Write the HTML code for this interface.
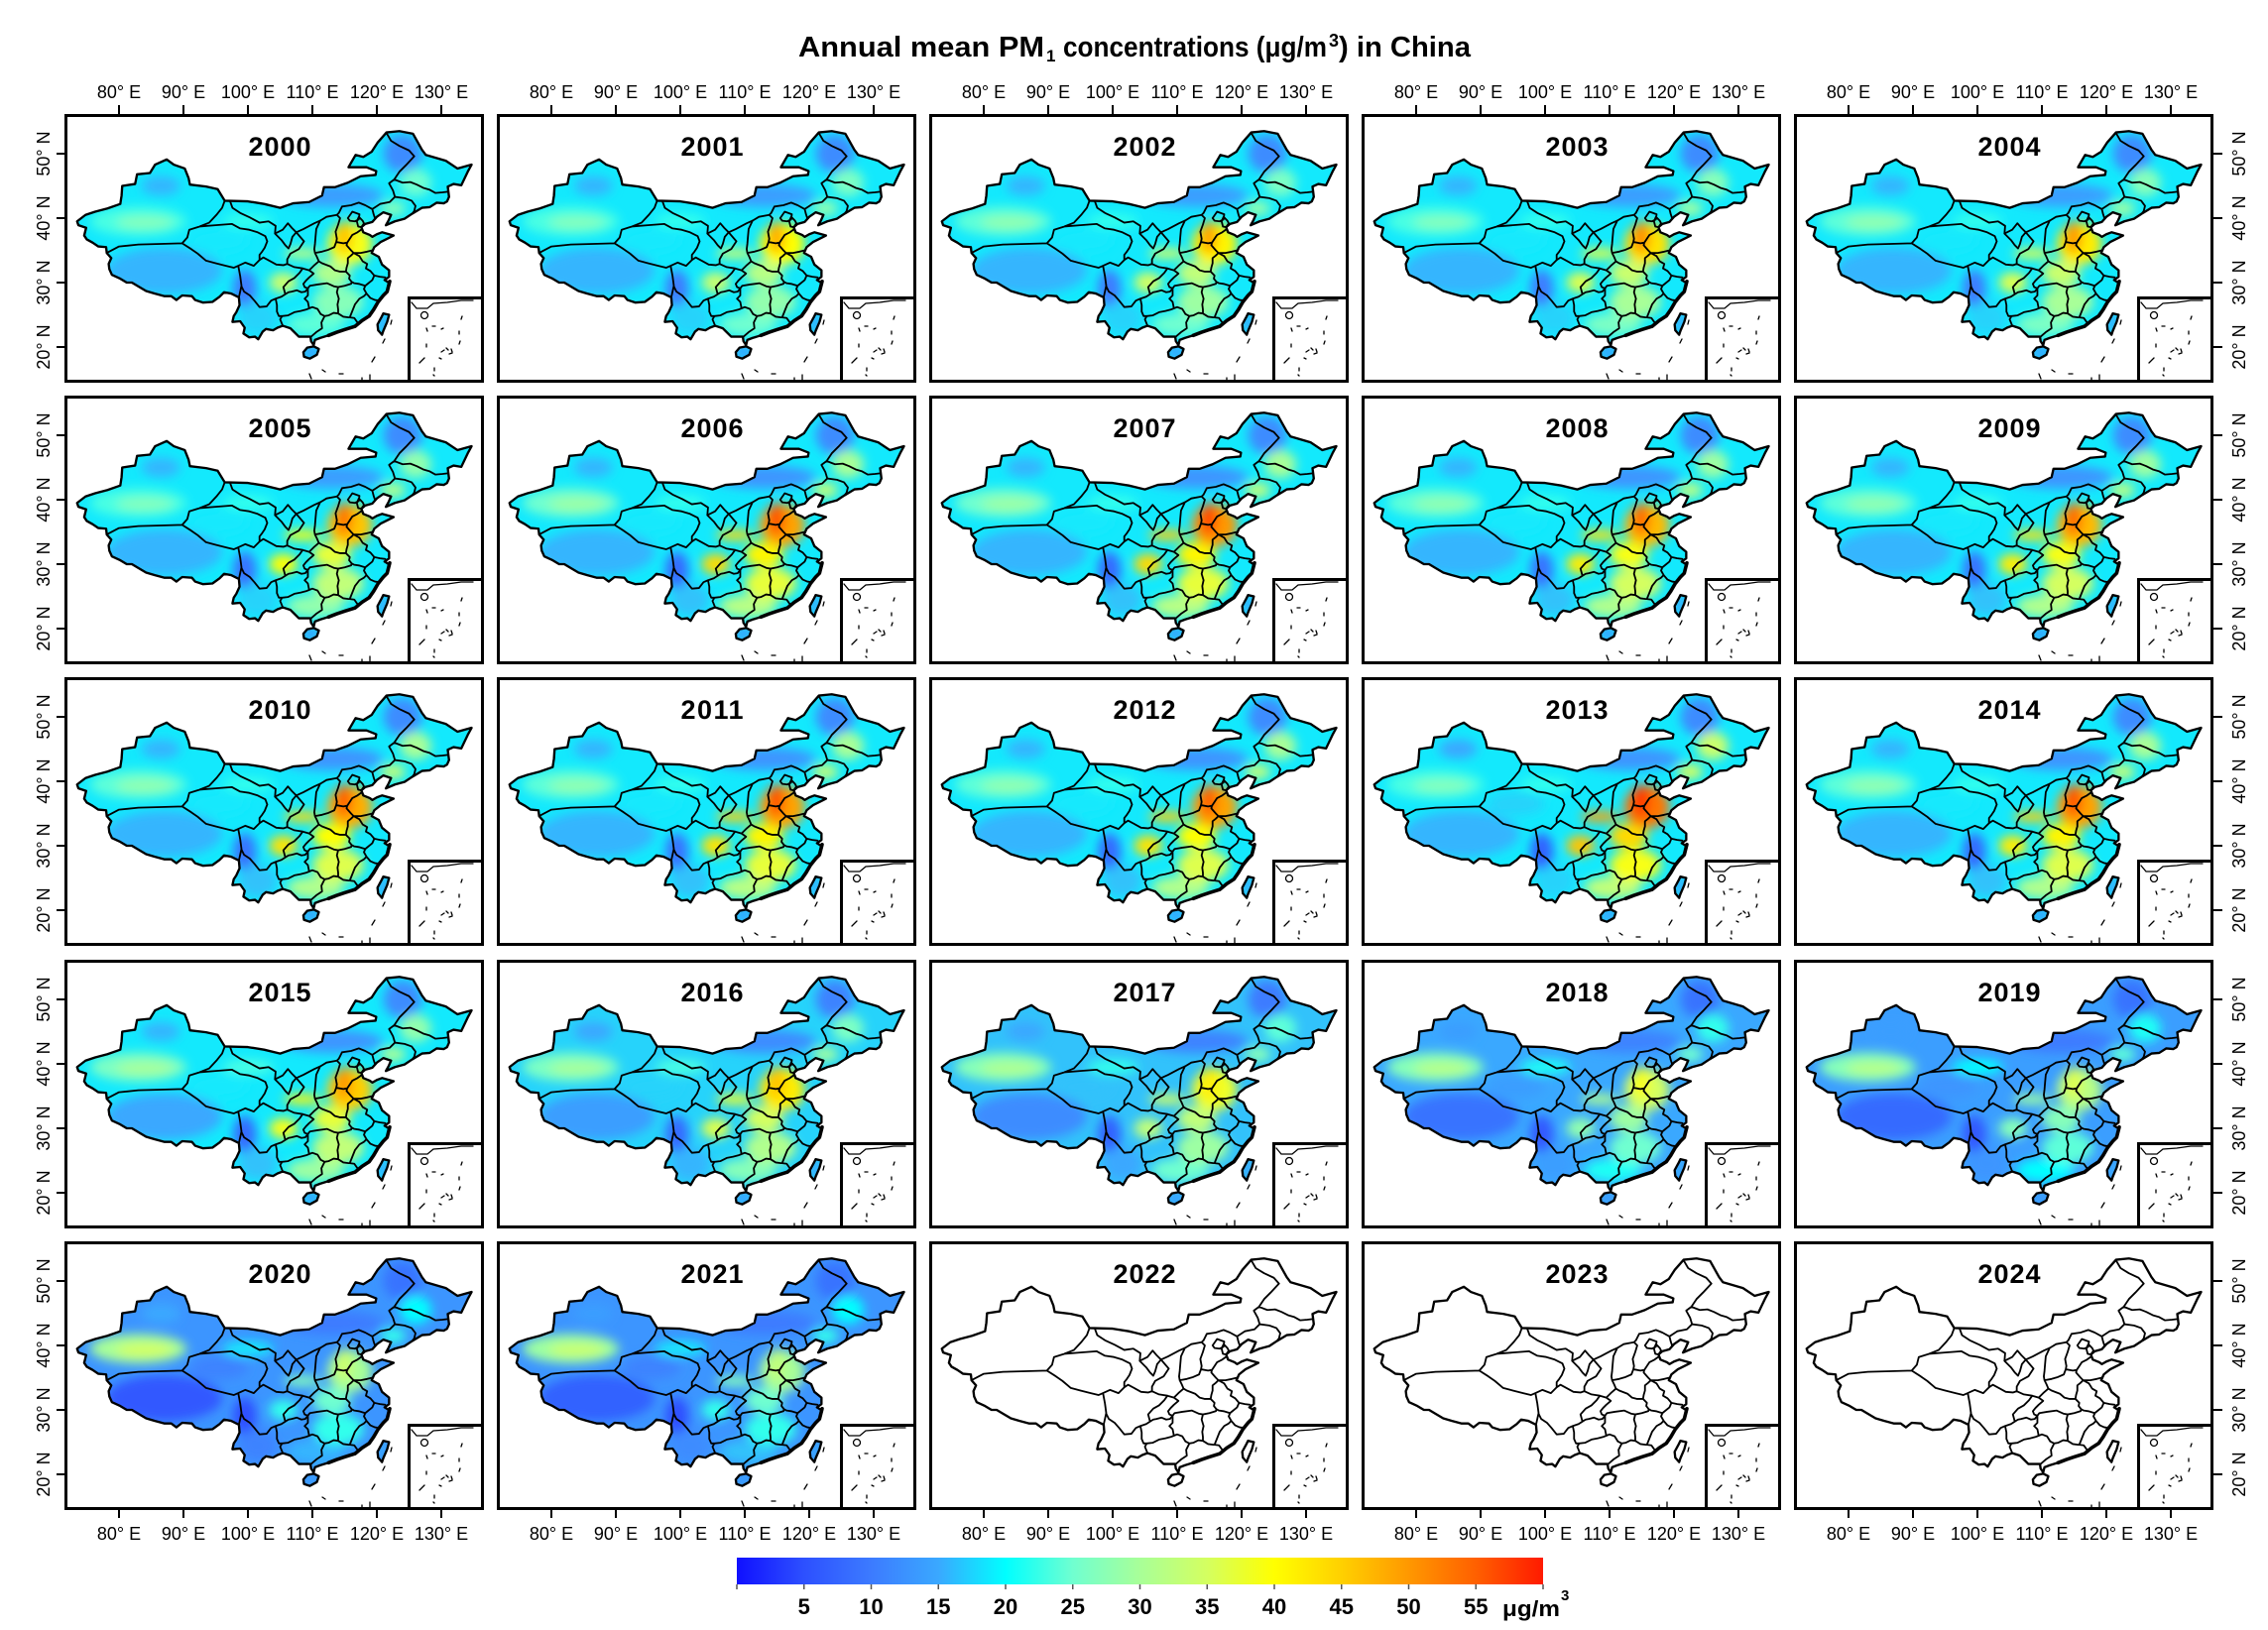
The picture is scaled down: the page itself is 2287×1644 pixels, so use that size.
<!DOCTYPE html>
<html><head><meta charset="utf-8">
<style>
html,body{margin:0;padding:0;background:#fff}
svg{display:block}
text{font-family:"Liberation Sans",Arial,sans-serif;fill:#000}
.yr{font-weight:bold;font-size:27px}
.tk{font-size:18px}
.cb{font-weight:bold;font-size:22px}
</style></head>
<body>
<svg xmlns="http://www.w3.org/2000/svg" width="2287" height="1644" viewBox="0 0 2287 1644">
<defs>
<path id="cnp" d="M73.5 39.5 L74.8 40.5 L76.3 41 L78.2 41.5 L80.2 42.2 L80.4 43.5 L80.5 45 L82.5 45.3 L82.8 46.8 L84.8 47 L85.6 48.3 L87.4 49.1 L88.5 48.3 L90.2 47.7 L90.8 46.2 L91 45.2 L93.5 44.9 L95.3 44.5 L96.4 42.7 L100 42.6 L102.5 42.2 L105 41.6 L107 42.3 L109.5 42.5 L111.5 43.5 L111.8 44.8 L113.5 44.8 L115.5 45.5 L117.5 46.5 L119.8 46.7 L119.9 47.3 L118.4 47.9 L115.6 47.9 L116.7 49.8 L117.9 49.5 L119.2 50.3 L120.1 51.7 L121.5 53.3 L123.5 53.5 L125.6 53.1 L127 50.6 L127.6 49.8 L130.7 48.9 L132.5 47.7 L134.7 48.3 L134.1 47.2 L133.1 45.1 L131.9 45.3 L131 44.9 L131.2 43.3 L130.9 42.6 L130.4 42.3 L129.3 42.4 L128.2 41.7 L127 41.6 L125.5 40.7 L124.3 39.9 L122.8 39.5 L121.4 38.9 L121.8 39.6 L122.2 40.5 L121 40.9 L120 40.2 L119.3 39.4 L118.2 39.1 L117.6 38.6 L117.9 37.8 L118.9 37.4 L119.3 37.1 L120 37.5 L120.8 37.8 L122.6 37.3 L121.8 36.9 L120.6 36.3 L119.6 35.5 L119.2 34.6 L120.3 34 L120.8 32.8 L121.9 31.9 L121.9 30.9 L121.2 30.4 L122 29.9 L121.6 28.6 L121 28 L120.2 27 L119.5 25.8 L118.8 24.8 L117.7 24.1 L116.6 23.2 L115 22.7 L113.8 22.3 L112.5 21.8 L111.2 21.4 L110.4 21.1 L110.2 20.3 L109.8 20.9 L109.7 21.6 L108.5 21.6 L107.9 21.6 L107 22.5 L106.6 22.9 L105.4 23.3 L104.6 23 L103.9 22.6 L102.8 22.8 L102.3 22.4 L101.6 21.2 L101.1 21.6 L100.2 21.5 L99.3 22.1 L99.5 23 L98.8 24 L97.6 23.9 L97.8 24.8 L98.2 25.4 L98.7 26.5 L98.6 27.7 L97.4 28.3 L96.3 28.5 L95.6 27.8 L94.5 27 L93 26.9 L91.8 27.3 L91.3 27.9 L89.8 28 L88.9 27.3 L88.1 27.9 L87 27.9 L85.5 28.3 L84.2 28.7 L83 29.4 L82 30 L81.2 30 L80.2 30.6 L78.9 31.2 L78.5 32.1 L78.4 32.9 L78.8 33.8 L78.1 34.6 L78 35.5 L76.8 35.6 L75.9 36.2 L75 36.7 L74.6 37.3 L74.9 38.5 L73.7 38.9 Z"/>
<path id="hnp" d="M108.6 19.2 L109.2 19.9 L110.2 20.1 L111 19.7 L110.7 18.8 L109.6 18.2 L108.7 18.5 Z"/>
<path id="twp" d="M121 25.2 L121.9 25 L121.6 23.9 L121 22.5 L120.8 21.9 L120.2 22.6 L120.1 23.5 L120.7 24.6 Z"/>
<clipPath id="cc"><use href="#cnp"/><use href="#hnp"/><use href="#twp"/></clipPath>
<filter id="bl" x="-20%" y="-20%" width="140%" height="140%"><feGaussianBlur stdDeviation="0.8"/></filter>
<ellipse id="a1" cx="83" cy="39.5" rx="7.5" ry="2.3"/>
<ellipse id="a18" cx="84" cy="39.3" rx="4.5" ry="1"/>
<ellipse id="a2" cx="86.5" cy="45" rx="3" ry="1.5"/>
<ellipse id="a3" cx="87" cy="31.8" rx="9" ry="3.6"/>
<ellipse id="a4" cx="95.5" cy="36.5" rx="4.5" ry="1.8"/>
<ellipse id="a5" cx="99.5" cy="29" rx="1.8" ry="3"/>
<ellipse id="a6" cx="113" cy="43.5" rx="8" ry="1.8"/>
<ellipse id="a7" cx="124" cy="50" rx="3" ry="3"/>
<ellipse id="a8" cx="126" cy="45.5" rx="2.5" ry="2.2"/>
<ellipse id="a9" cx="122.5" cy="41.5" rx="2" ry="1.2"/>
<ellipse id="a10" cx="114" cy="27" rx="4" ry="2.5"/>
<ellipse id="a19" cx="113" cy="31.5" rx="3" ry="2"/>
<ellipse id="a11" cx="110.5" cy="23.5" rx="4.5" ry="1.8"/>
<ellipse id="a12" cx="101.5" cy="24.5" rx="3" ry="2.5"/>
<ellipse id="a13" cx="105.5" cy="30" rx="2.2" ry="1.6"/>
<ellipse id="a14" cx="108.5" cy="34.5" rx="3" ry="0.8"/>
<ellipse id="a15" cx="115.8" cy="36" rx="3.5" ry="3.3"/>
<ellipse id="a16" cx="114.9" cy="37" rx="1.3" ry="2.5"/>
<ellipse id="a17" cx="100" cy="39.5" rx="4" ry="1.2"/>
<g id="isl"><ellipse cx="109.8" cy="19.2" rx="1.5" ry="1.2" fill="#3b9eff"/><ellipse cx="121" cy="23.7" rx="1" ry="1.8" fill="#3aa8ff"/></g>
<g id="ln" fill="none" stroke="#000" stroke-linejoin="round" stroke-linecap="round">
<path stroke-width="0.28" d="M78.1 34.6 L80 35.6 L83 35.9 L86.5 36 L89.8 36.1 L90.6 37 L90.9 38.2 L92.5 38.7 L94 39.3 L95.2 40.6 L96 41.6 L96.4 42.7 M89.8 36.1 L91.2 35.2 L92.2 34.5 L93.5 33.4 L95 33 L96.6 32.6 L97.8 32.3 L98.5 32.6 L98.8 31 L99 29.5 L98.8 28.6 L98.6 27.7 M98.5 32.6 L99.6 33.1 L100.9 32.6 L101.8 33.5 M92.5 38.7 L95 38.9 L97.5 39.1 L98.8 38.4 L100.2 38.2 L101.5 37.8 L102.7 37.2 L103 36.4 L102.6 35.4 L102.2 34.8 L101.8 34.3 L101.8 33.5 L102.4 33.9 L103.5 33.3 L104.4 32.8 L105.5 32.7 L106.1 32.9 L107.2 32.4 L108.5 32.2 M97.2 42.7 L97.6 41.6 L98.8 40.8 L100.3 40.1 L101.8 39.3 L103.2 39.5 L104.3 38.8 L104.2 37.6 M104.2 37.6 L105.4 38.2 L106.2 39.2 L106.8 38.5 L107.5 37.8 L106.9 37.1 L106.6 36 L106.3 35.3 L105.8 35.8 L105.2 36.6 Z M107.5 37.8 L108.7 36.4 L107.9 35.2 L106.6 34.5 L106.1 33.6 L106.1 32.9 M107.5 37.8 L108.6 38.3 L110.3 39.2 L111.2 39.6 L112.2 40.2 L113.8 40.5 L114.1 40.8 L114.6 41.8 L116 42 L117.2 42.4 L118.2 42 L119.3 41.4 L120.5 42.2 L122 42.5 L122.8 43.3 L122.5 44.3 L121.9 45.4 L122.7 46 L123.5 47.2 L124.5 48.2 L125.8 49.6 L125 50.5 L123.5 51.2 L122.2 52 L121.5 53.2 M122.7 46 L124 45.5 L125.2 45.6 L126.2 45.2 L127.2 44.7 L128.2 44.4 L129.1 43.9 L130.2 44 L131 44.1 M122.8 43.3 L124.3 43.1 L125.4 42.7 L126 41.9 L125.8 41.1 L125.5 40.7 M119.3 41.4 L119.5 40.6 L119.7 40 M113.8 40.5 L114.3 40 L114 39 L113.6 37.9 L113.8 36.8 L113.7 36.3 M111.2 39.6 L110.6 38.3 L110.5 37.2 L110.4 36 L110.3 35.2 L110.4 34.6 L111.5 34.8 L112.5 35.1 L113.4 35.5 L113.7 36.3 L114.8 36.1 L115.4 36.2 L116.2 37.4 L117 37.8 L117.7 38.3 M115.4 36.2 L115.3 35.8 L116 35 L116.4 34.6 L117.5 34.6 L118.5 34.8 L119.3 35 M116.4 34.6 L116 34.2 L115.5 33.8 L115.5 33 L115.3 32.3 L115.2 31.7 M116.4 34.6 L117.3 34.1 L117.8 33.3 L118.5 32.9 L118.3 32.2 L119 31.8 L119.6 31.1 L120.5 30.9 L121.3 30.8 M119.6 31.1 L119.3 30.4 L118.2 29.5 L117.2 29.8 L116.5 29.9 L116.1 30.1 L115.7 30.6 L115.8 31.1 L115.2 31.7 L114.3 31.7 L113.5 31.9 L112.8 32.5 L111.5 33 L111 33.3 M110.4 34.6 L110.7 34 L111 33.3 L110.2 32.6 L109.5 31.9 M108.5 32.2 L109.5 31.9 L110.2 31.4 L109.5 30.8 L109 30.3 L108.6 29.8 L108.8 29.3 L109.3 29.1 L108.9 28.6 L108.3 28.5 L107.6 28.8 L106.8 28.6 L106.3 28.5 L105.8 28.2 L105.5 29.3 L106.3 30.2 L107.2 30.7 L108 31.5 L108.5 32.2 M105.8 28.2 L105.2 27.8 L104.3 27.5 L103.6 27.2 L102.9 26.3 L101.8 26.2 L101 27.2 L100.3 28 L99.4 28.6 L99 29.4 M104.3 27.5 L104.5 26.5 L104.5 25.5 L104.8 24.8 L105.3 24.8 L105 24.3 L105.4 23.3 M105.3 24.8 L106.2 24.9 L107.2 25.4 L108.2 25.6 L109 25.8 L109.5 26 L109.3 27 L108.8 27.5 L109.3 28 L109.3 29.1 L109.6 29.5 L110.8 29.7 L112.3 29.9 L113.4 29.4 L114 29.3 L115 29.5 L116 29.8 L116.1 30.1 M114 29.3 L113.8 28.5 L114.1 27.5 L113.9 26.6 L114 25.8 L114 25.2 L113.3 25.3 L112.5 24.9 L111.9 24.8 L111.3 25.1 L110.8 25.9 L110 26.2 L109.5 26 M111.9 24.8 L111.4 23.8 L111.5 22.9 L110.6 22.3 L109.8 21.6 M114 25.2 L114.8 24.7 L115.6 24.6 L115.8 24.6 L116.5 24.5 L117 23.8 L117.2 23.6 M115.8 24.6 L116.2 25.6 L116.6 26.6 L117.3 27.5 L118 27.9 L118.4 28.3 L118 29 L118.2 29.5 M118.4 28.3 L119 27.6 L119.7 27.3 L120.4 27.2 M115.5 40 L116.2 41 L117.3 40.6 L117.2 39.8 L116.6 39.5 L115.8 39.6 Z M117.2 40.2 L117.8 39.6 L118 39.2 L117.6 38.6 L117.1 38.7 L116.9 39.5 Z"/>
<use href="#cnp" stroke-width="0.36"/><use href="#hnp" stroke-width="0.36"/><use href="#twp" stroke-width="0.36"/>
<path stroke-width="0.55" d="M122 30.2 L121.6 28.6 L121 28 L120.2 27 L119.5 25.8 L118.8 24.8 L117.7 24.1 L116.6 23.2 L115 22.7 L113.8 22.3 L112.5 21.8"/>
</g>
<g id="fr">
<rect x="1.5" y="1.5" width="420" height="268" fill="none" stroke="#000" stroke-width="3"/>
<rect x="347.5" y="185.5" width="74" height="84" fill="#fff" stroke="#000" stroke-width="3"/>
<g fill="none" stroke="#000" stroke-width="1.3" stroke-linecap="round">
<path d="M350 190 L355 196 L366 196 L372 191 L386 190 L400 188 L412 188 M365 216 l1 3 M371 214 l3 0 M380 217 l2 -1 M400 207 l1 -3 M398 219 l0 3 M365 232 l0 3 M363 246 l-5 5 M373 256 l0 3 M372 263 l1 1 M398 232 l1 -3 M380 240 l3 -2 M385 236 l2 2 M388 242 l3 -1 M378 246 l2 1 M390 237 l1 3 M330 208 l-1 4 M323 227 l-2 4 M313 245 l-3 5 M308 263 l0 5 M277 262 l4 0 M260 258 l3 2 M247 262 l2 5 M300 266 l0 2"/>
<circle cx="363" cy="203" r="3.5"/>
</g>
</g>
<linearGradient id="cbg" x1="0" y1="0" x2="1" y2="0">
<stop offset="0" stop-color="#1010ff"/><stop offset="0.0833" stop-color="#2d50ff"/><stop offset="0.1667" stop-color="#3c7bff"/><stop offset="0.25" stop-color="#3aa8ff"/><stop offset="0.3333" stop-color="#00ffff"/><stop offset="0.4167" stop-color="#70ffd0"/><stop offset="0.5" stop-color="#a8ff98"/><stop offset="0.5833" stop-color="#d4ff60"/><stop offset="0.6667" stop-color="#ffff00"/><stop offset="0.75" stop-color="#ffd000"/><stop offset="0.8333" stop-color="#ff9800"/><stop offset="0.9167" stop-color="#ff6000"/><stop offset="1" stop-color="#ff1a00"/>
</linearGradient>
</defs>
<rect width="2287" height="1644" fill="#fff"/>

<!-- Title -->
<text x="805" y="57" font-weight="bold" font-size="29" textLength="248" lengthAdjust="spacingAndGlyphs">Annual mean PM</text>
<text x="1055" y="62" font-weight="bold" font-size="17">1</text>
<text x="1072" y="57" font-weight="bold" font-size="29" textLength="266" lengthAdjust="spacingAndGlyphs">concentrations (μg/m</text>
<text x="1340" y="47" font-weight="bold" font-size="18">3</text>
<text x="1350" y="57" font-weight="bold" font-size="29" textLength="133" lengthAdjust="spacingAndGlyphs">) in China</text>

<!-- Row 1 -->
<g transform="translate(65 115)"><g transform="translate(55 40) scale(6.5 -6.5) translate(-80 -50)"><g clip-path="url(#cc)"><rect x="70" y="15" width="70" height="42" fill="#13e9fd"/><g filter="url(#bl)"><use href="#a3" fill="#36b5fe"/><use href="#a4" fill="#13e9fd"/><use href="#a1" fill="#4affe3"/><use href="#a18" fill="#86ffba"/><use href="#a2" fill="#36b5fe"/><use href="#a17" fill="#33ffec"/><use href="#a5" fill="#3c7bff"/><use href="#a12" fill="#26d3fb"/><use href="#a6" fill="#3b9eff"/><use href="#a7" fill="#3d8cff"/><use href="#a8" fill="#70ffd0"/><use href="#a9" fill="#86ffba"/><use href="#a11" fill="#5dffd9"/><use href="#a10" fill="#86ffba"/><use href="#a19" fill="#b0ff8e"/><use href="#a13" fill="#caff6d"/><use href="#a14" fill="#c1ff7a"/><use href="#a15" fill="#f8ff13"/><use href="#a16" fill="#ffc500"/><use href="#isl"/></g></g><use href="#ln"/></g><use href="#fr"/><text class="yr" x="185.5" y="42" textLength="63">2000</text></g>

<g transform="translate(501 115)"><g transform="translate(55 40) scale(6.5 -6.5) translate(-80 -50)"><g clip-path="url(#cc)"><rect x="70" y="15" width="70" height="42" fill="#13e9fd"/><g filter="url(#bl)"><use href="#a3" fill="#36b5fe"/><use href="#a4" fill="#13e9fd"/><use href="#a1" fill="#4affe3"/><use href="#a18" fill="#86ffba"/><use href="#a2" fill="#36b5fe"/><use href="#a17" fill="#33ffec"/><use href="#a5" fill="#3c7bff"/><use href="#a12" fill="#26d3fb"/><use href="#a6" fill="#3b9eff"/><use href="#a7" fill="#3d8cff"/><use href="#a8" fill="#7bffc5"/><use href="#a9" fill="#92ffae"/><use href="#a11" fill="#70ffd0"/><use href="#a10" fill="#92ffae"/><use href="#a19" fill="#b8ff85"/><use href="#a13" fill="#caff6d"/><use href="#a14" fill="#caff6d"/><use href="#a15" fill="#ffff00"/><use href="#a16" fill="#ffae00"/><use href="#isl"/></g></g><use href="#ln"/></g><use href="#fr"/><text class="yr" x="185.5" y="42" textLength="63">2001</text></g>

<g transform="translate(937 115)"><g transform="translate(55 40) scale(6.5 -6.5) translate(-80 -50)"><g clip-path="url(#cc)"><rect x="70" y="15" width="70" height="42" fill="#13e9fd"/><g filter="url(#bl)"><use href="#a3" fill="#36b5fe"/><use href="#a4" fill="#13e9fd"/><use href="#a1" fill="#5dffd9"/><use href="#a18" fill="#92ffae"/><use href="#a2" fill="#36b5fe"/><use href="#a17" fill="#33ffec"/><use href="#a5" fill="#3c7bff"/><use href="#a12" fill="#26d3fb"/><use href="#a6" fill="#3b9eff"/><use href="#a7" fill="#3d8cff"/><use href="#a8" fill="#7bffc5"/><use href="#a9" fill="#92ffae"/><use href="#a11" fill="#70ffd0"/><use href="#a10" fill="#9dffa3"/><use href="#a19" fill="#c1ff7a"/><use href="#a13" fill="#d4ff60"/><use href="#a14" fill="#d4ff60"/><use href="#a15" fill="#fff600"/><use href="#a16" fill="#ffa300"/><use href="#isl"/></g></g><use href="#ln"/></g><use href="#fr"/><text class="yr" x="185.5" y="42" textLength="63">2002</text></g>

<g transform="translate(1373 115)"><g transform="translate(55 40) scale(6.5 -6.5) translate(-80 -50)"><g clip-path="url(#cc)"><rect x="70" y="15" width="70" height="42" fill="#13e9fd"/><g filter="url(#bl)"><use href="#a3" fill="#36b5fe"/><use href="#a4" fill="#13e9fd"/><use href="#a1" fill="#4affe3"/><use href="#a18" fill="#86ffba"/><use href="#a2" fill="#36b5fe"/><use href="#a17" fill="#33ffec"/><use href="#a5" fill="#3c7bff"/><use href="#a12" fill="#26d3fb"/><use href="#a6" fill="#3b9eff"/><use href="#a7" fill="#3d8cff"/><use href="#a8" fill="#86ffba"/><use href="#a9" fill="#9dffa3"/><use href="#a11" fill="#7bffc5"/><use href="#a10" fill="#a8ff98"/><use href="#a19" fill="#caff6d"/><use href="#a13" fill="#deff4d"/><use href="#a14" fill="#e7ff3a"/><use href="#a15" fill="#ffe300"/><use href="#a16" fill="#ff8d00"/><use href="#isl"/></g></g><use href="#ln"/></g><use href="#fr"/><text class="yr" x="185.5" y="42" textLength="63">2003</text></g>

<g transform="translate(1809 115)"><g transform="translate(55 40) scale(6.5 -6.5) translate(-80 -50)"><g clip-path="url(#cc)"><rect x="70" y="15" width="70" height="42" fill="#13e9fd"/><g filter="url(#bl)"><use href="#a3" fill="#36b5fe"/><use href="#a4" fill="#13e9fd"/><use href="#a1" fill="#5dffd9"/><use href="#a18" fill="#92ffae"/><use href="#a2" fill="#36b5fe"/><use href="#a17" fill="#33ffec"/><use href="#a5" fill="#3c7bff"/><use href="#a12" fill="#26d3fb"/><use href="#a6" fill="#3b9eff"/><use href="#a7" fill="#3d8cff"/><use href="#a8" fill="#86ffba"/><use href="#a9" fill="#9dffa3"/><use href="#a11" fill="#7bffc5"/><use href="#a10" fill="#a8ff98"/><use href="#a19" fill="#caff6d"/><use href="#a13" fill="#deff4d"/><use href="#a14" fill="#deff4d"/><use href="#a15" fill="#ffed00"/><use href="#a16" fill="#ff9800"/><use href="#isl"/></g></g><use href="#ln"/></g><use href="#fr"/><text class="yr" x="185.5" y="42" textLength="63">2004</text></g>

<!-- Row 2 -->
<g transform="translate(65 399)"><g transform="translate(55 40) scale(6.5 -6.5) translate(-80 -50)"><g clip-path="url(#cc)"><rect x="70" y="15" width="70" height="42" fill="#13e9fd"/><g filter="url(#bl)"><use href="#a3" fill="#36b5fe"/><use href="#a4" fill="#13e9fd"/><use href="#a1" fill="#4affe3"/><use href="#a18" fill="#86ffba"/><use href="#a2" fill="#36b5fe"/><use href="#a17" fill="#33ffec"/><use href="#a5" fill="#3973ff"/><use href="#a12" fill="#26d3fb"/><use href="#a6" fill="#3b9eff"/><use href="#a7" fill="#3d8cff"/><use href="#a8" fill="#92ffae"/><use href="#a9" fill="#b0ff8e"/><use href="#a11" fill="#92ffae"/><use href="#a10" fill="#c1ff7a"/><use href="#a19" fill="#e7ff3a"/><use href="#a13" fill="#ffff00"/><use href="#a14" fill="#ffff00"/><use href="#a15" fill="#ffc500"/><use href="#a16" fill="#ff7600"/><use href="#isl"/></g></g><use href="#ln"/></g><use href="#fr"/><text class="yr" x="185.5" y="42" textLength="63">2005</text></g>

<g transform="translate(501 399)"><g transform="translate(55 40) scale(6.5 -6.5) translate(-80 -50)"><g clip-path="url(#cc)"><rect x="70" y="15" width="70" height="42" fill="#13e9fd"/><g filter="url(#bl)"><use href="#a3" fill="#36b5fe"/><use href="#a4" fill="#13e9fd"/><use href="#a1" fill="#70ffd0"/><use href="#a18" fill="#9dffa3"/><use href="#a2" fill="#36b5fe"/><use href="#a17" fill="#33ffec"/><use href="#a5" fill="#366aff"/><use href="#a12" fill="#32c2fb"/><use href="#a6" fill="#3c95ff"/><use href="#a7" fill="#3d8cff"/><use href="#a8" fill="#a8ff98"/><use href="#a9" fill="#c1ff7a"/><use href="#a11" fill="#b8ff85"/><use href="#a10" fill="#e7ff3a"/><use href="#a19" fill="#fff600"/><use href="#a13" fill="#ffda00"/><use href="#a14" fill="#ffda00"/><use href="#a15" fill="#ffa300"/><use href="#a16" fill="#ff5300"/><use href="#isl"/></g></g><use href="#ln"/></g><use href="#fr"/><text class="yr" x="185.5" y="42" textLength="63">2006</text></g>

<g transform="translate(937 399)"><g transform="translate(55 40) scale(6.5 -6.5) translate(-80 -50)"><g clip-path="url(#cc)"><rect x="70" y="15" width="70" height="42" fill="#13e9fd"/><g filter="url(#bl)"><use href="#a3" fill="#36b5fe"/><use href="#a4" fill="#13e9fd"/><use href="#a1" fill="#70ffd0"/><use href="#a18" fill="#9dffa3"/><use href="#a2" fill="#36b5fe"/><use href="#a17" fill="#33ffec"/><use href="#a5" fill="#366aff"/><use href="#a12" fill="#32c2fb"/><use href="#a6" fill="#3c95ff"/><use href="#a7" fill="#3d8cff"/><use href="#a8" fill="#a8ff98"/><use href="#a9" fill="#c1ff7a"/><use href="#a11" fill="#b8ff85"/><use href="#a10" fill="#e7ff3a"/><use href="#a19" fill="#fff600"/><use href="#a13" fill="#ffda00"/><use href="#a14" fill="#ffd000"/><use href="#a15" fill="#ff9800"/><use href="#a16" fill="#ff4600"/><use href="#isl"/></g></g><use href="#ln"/></g><use href="#fr"/><text class="yr" x="185.5" y="42" textLength="63">2007</text></g>

<g transform="translate(1373 399)"><g transform="translate(55 40) scale(6.5 -6.5) translate(-80 -50)"><g clip-path="url(#cc)"><rect x="70" y="15" width="70" height="42" fill="#13e9fd"/><g filter="url(#bl)"><use href="#a3" fill="#36b5fe"/><use href="#a4" fill="#13e9fd"/><use href="#a1" fill="#5dffd9"/><use href="#a18" fill="#92ffae"/><use href="#a2" fill="#36b5fe"/><use href="#a17" fill="#33ffec"/><use href="#a5" fill="#3973ff"/><use href="#a12" fill="#32c2fb"/><use href="#a6" fill="#3c95ff"/><use href="#a7" fill="#3d8cff"/><use href="#a8" fill="#9dffa3"/><use href="#a9" fill="#b8ff85"/><use href="#a11" fill="#b0ff8e"/><use href="#a10" fill="#d4ff60"/><use href="#a19" fill="#f8ff13"/><use href="#a13" fill="#ffed00"/><use href="#a14" fill="#ffe300"/><use href="#a15" fill="#ffba00"/><use href="#a16" fill="#ff6b00"/><use href="#isl"/></g></g><use href="#ln"/></g><use href="#fr"/><text class="yr" x="185.5" y="42" textLength="63">2008</text></g>

<g transform="translate(1809 399)"><g transform="translate(55 40) scale(6.5 -6.5) translate(-80 -50)"><g clip-path="url(#cc)"><rect x="70" y="15" width="70" height="42" fill="#13e9fd"/><g filter="url(#bl)"><use href="#a3" fill="#36b5fe"/><use href="#a4" fill="#13e9fd"/><use href="#a1" fill="#5dffd9"/><use href="#a18" fill="#92ffae"/><use href="#a2" fill="#36b5fe"/><use href="#a17" fill="#33ffec"/><use href="#a5" fill="#3973ff"/><use href="#a12" fill="#32c2fb"/><use href="#a6" fill="#3c95ff"/><use href="#a7" fill="#3d8cff"/><use href="#a8" fill="#9dffa3"/><use href="#a9" fill="#b8ff85"/><use href="#a11" fill="#b0ff8e"/><use href="#a10" fill="#d4ff60"/><use href="#a19" fill="#f8ff13"/><use href="#a13" fill="#ffed00"/><use href="#a14" fill="#ffe300"/><use href="#a15" fill="#ffba00"/><use href="#a16" fill="#ff6b00"/><use href="#isl"/></g></g><use href="#ln"/></g><use href="#fr"/><text class="yr" x="185.5" y="42" textLength="63">2009</text></g>

<!-- Row 3 -->
<g transform="translate(65 683)"><g transform="translate(55 40) scale(6.5 -6.5) translate(-80 -50)"><g clip-path="url(#cc)"><rect x="70" y="15" width="70" height="42" fill="#13e9fd"/><g filter="url(#bl)"><use href="#a3" fill="#36b5fe"/><use href="#a4" fill="#13e9fd"/><use href="#a1" fill="#5dffd9"/><use href="#a18" fill="#92ffae"/><use href="#a2" fill="#36b5fe"/><use href="#a17" fill="#33ffec"/><use href="#a5" fill="#3973ff"/><use href="#a12" fill="#32c2fb"/><use href="#a6" fill="#3c95ff"/><use href="#a7" fill="#3d8cff"/><use href="#a8" fill="#a8ff98"/><use href="#a9" fill="#c1ff7a"/><use href="#a11" fill="#b0ff8e"/><use href="#a10" fill="#deff4d"/><use href="#a19" fill="#ffff00"/><use href="#a13" fill="#ffe300"/><use href="#a14" fill="#ffda00"/><use href="#a15" fill="#ffae00"/><use href="#a16" fill="#ff6000"/><use href="#isl"/></g></g><use href="#ln"/></g><use href="#fr"/><text class="yr" x="185.5" y="42" textLength="63">2010</text></g>

<g transform="translate(501 683)"><g transform="translate(55 40) scale(6.5 -6.5) translate(-80 -50)"><g clip-path="url(#cc)"><rect x="70" y="15" width="70" height="42" fill="#13e9fd"/><g filter="url(#bl)"><use href="#a3" fill="#36b5fe"/><use href="#a4" fill="#13e9fd"/><use href="#a1" fill="#5dffd9"/><use href="#a18" fill="#92ffae"/><use href="#a2" fill="#36b5fe"/><use href="#a17" fill="#33ffec"/><use href="#a5" fill="#3973ff"/><use href="#a12" fill="#32c2fb"/><use href="#a6" fill="#3c95ff"/><use href="#a7" fill="#3d8cff"/><use href="#a8" fill="#a8ff98"/><use href="#a9" fill="#c1ff7a"/><use href="#a11" fill="#b8ff85"/><use href="#a10" fill="#e7ff3a"/><use href="#a19" fill="#fff600"/><use href="#a13" fill="#ffe300"/><use href="#a14" fill="#ffd000"/><use href="#a15" fill="#ffa300"/><use href="#a16" fill="#ff5300"/><use href="#isl"/></g></g><use href="#ln"/></g><use href="#fr"/><text class="yr" x="185.5" y="42" textLength="63">2011</text></g>

<g transform="translate(937 683)"><g transform="translate(55 40) scale(6.5 -6.5) translate(-80 -50)"><g clip-path="url(#cc)"><rect x="70" y="15" width="70" height="42" fill="#13e9fd"/><g filter="url(#bl)"><use href="#a3" fill="#36b5fe"/><use href="#a4" fill="#13e9fd"/><use href="#a1" fill="#5dffd9"/><use href="#a18" fill="#92ffae"/><use href="#a2" fill="#36b5fe"/><use href="#a17" fill="#33ffec"/><use href="#a5" fill="#366aff"/><use href="#a12" fill="#32c2fb"/><use href="#a6" fill="#3c95ff"/><use href="#a7" fill="#3d8cff"/><use href="#a8" fill="#a8ff98"/><use href="#a9" fill="#c1ff7a"/><use href="#a11" fill="#b0ff8e"/><use href="#a10" fill="#deff4d"/><use href="#a19" fill="#ffff00"/><use href="#a13" fill="#ffe300"/><use href="#a14" fill="#ffd000"/><use href="#a15" fill="#ffa300"/><use href="#a16" fill="#ff6000"/><use href="#isl"/></g></g><use href="#ln"/></g><use href="#fr"/><text class="yr" x="185.5" y="42" textLength="63">2012</text></g>

<g transform="translate(1373 683)"><g transform="translate(55 40) scale(6.5 -6.5) translate(-80 -50)"><g clip-path="url(#cc)"><rect x="70" y="15" width="70" height="42" fill="#13e9fd"/><g filter="url(#bl)"><use href="#a3" fill="#36b5fe"/><use href="#a4" fill="#26d3fb"/><use href="#a1" fill="#4affe3"/><use href="#a18" fill="#86ffba"/><use href="#a2" fill="#3aa8ff"/><use href="#a17" fill="#33ffec"/><use href="#a5" fill="#3362ff"/><use href="#a12" fill="#26d3fb"/><use href="#a6" fill="#3c95ff"/><use href="#a7" fill="#3d8cff"/><use href="#a8" fill="#caff6d"/><use href="#a9" fill="#d4ff60"/><use href="#a11" fill="#c1ff7a"/><use href="#a10" fill="#f8ff13"/><use href="#a19" fill="#ffda00"/><use href="#a13" fill="#ffc500"/><use href="#a14" fill="#ffa300"/><use href="#a15" fill="#ff7600"/><use href="#a16" fill="#ff3800"/><use href="#isl"/></g></g><use href="#ln"/></g><use href="#fr"/><text class="yr" x="185.5" y="42" textLength="63">2013</text></g>

<g transform="translate(1809 683)"><g transform="translate(55 40) scale(6.5 -6.5) translate(-80 -50)"><g clip-path="url(#cc)"><rect x="70" y="15" width="70" height="42" fill="#13e9fd"/><g filter="url(#bl)"><use href="#a3" fill="#36b5fe"/><use href="#a4" fill="#13e9fd"/><use href="#a1" fill="#5dffd9"/><use href="#a18" fill="#92ffae"/><use href="#a2" fill="#36b5fe"/><use href="#a17" fill="#33ffec"/><use href="#a5" fill="#366aff"/><use href="#a12" fill="#32c2fb"/><use href="#a6" fill="#3c95ff"/><use href="#a7" fill="#3d8cff"/><use href="#a8" fill="#a8ff98"/><use href="#a9" fill="#c1ff7a"/><use href="#a11" fill="#b0ff8e"/><use href="#a10" fill="#deff4d"/><use href="#a19" fill="#fff600"/><use href="#a13" fill="#ffed00"/><use href="#a14" fill="#ffd000"/><use href="#a15" fill="#ffa300"/><use href="#a16" fill="#ff5300"/><use href="#isl"/></g></g><use href="#ln"/></g><use href="#fr"/><text class="yr" x="185.5" y="42" textLength="63">2014</text></g>

<!-- Row 4 -->
<g transform="translate(65 968)"><g transform="translate(55 40) scale(6.5 -6.5) translate(-80 -50)"><g clip-path="url(#cc)"><rect x="70" y="15" width="70" height="42" fill="#13e9fd"/><g filter="url(#bl)"><use href="#a3" fill="#3aa8ff"/><use href="#a4" fill="#13e9fd"/><use href="#a1" fill="#7bffc5"/><use href="#a18" fill="#a8ff98"/><use href="#a2" fill="#36b5fe"/><use href="#a17" fill="#4affe3"/><use href="#a5" fill="#366aff"/><use href="#a12" fill="#32c2fb"/><use href="#a6" fill="#3c95ff"/><use href="#a7" fill="#3d8cff"/><use href="#a8" fill="#92ffae"/><use href="#a9" fill="#a8ff98"/><use href="#a11" fill="#9dffa3"/><use href="#a10" fill="#c1ff7a"/><use href="#a19" fill="#e7ff3a"/><use href="#a13" fill="#f8ff13"/><use href="#a14" fill="#fff600"/><use href="#a15" fill="#ffd000"/><use href="#a16" fill="#ff9800"/><use href="#isl"/></g></g><use href="#ln"/></g><use href="#fr"/><text class="yr" x="185.5" y="42" textLength="63">2015</text></g>

<g transform="translate(501 968)"><g transform="translate(55 40) scale(6.5 -6.5) translate(-80 -50)"><g clip-path="url(#cc)"><rect x="70" y="15" width="70" height="42" fill="#26d3fb"/><g filter="url(#bl)"><use href="#a3" fill="#3b9eff"/><use href="#a4" fill="#26d3fb"/><use href="#a1" fill="#7bffc5"/><use href="#a18" fill="#a8ff98"/><use href="#a2" fill="#3aa8ff"/><use href="#a17" fill="#4affe3"/><use href="#a5" fill="#366aff"/><use href="#a12" fill="#36b5fe"/><use href="#a6" fill="#3d8cff"/><use href="#a7" fill="#3c83ff"/><use href="#a8" fill="#7bffc5"/><use href="#a9" fill="#9dffa3"/><use href="#a11" fill="#86ffba"/><use href="#a10" fill="#b0ff8e"/><use href="#a19" fill="#d4ff60"/><use href="#a13" fill="#deff4d"/><use href="#a14" fill="#f0ff26"/><use href="#a15" fill="#ffed00"/><use href="#a16" fill="#ffc500"/><use href="#isl"/></g></g><use href="#ln"/></g><use href="#fr"/><text class="yr" x="185.5" y="42" textLength="63">2016</text></g>

<g transform="translate(937 968)"><g transform="translate(55 40) scale(6.5 -6.5) translate(-80 -50)"><g clip-path="url(#cc)"><rect x="70" y="15" width="70" height="42" fill="#32c2fb"/><g filter="url(#bl)"><use href="#a3" fill="#3d8cff"/><use href="#a4" fill="#32c2fb"/><use href="#a1" fill="#86ffba"/><use href="#a18" fill="#b0ff8e"/><use href="#a2" fill="#3aa8ff"/><use href="#a17" fill="#33ffec"/><use href="#a5" fill="#3362ff"/><use href="#a12" fill="#3aa8ff"/><use href="#a6" fill="#3c83ff"/><use href="#a7" fill="#3c7bff"/><use href="#a8" fill="#5dffd9"/><use href="#a9" fill="#86ffba"/><use href="#a11" fill="#70ffd0"/><use href="#a10" fill="#9dffa3"/><use href="#a19" fill="#c1ff7a"/><use href="#a13" fill="#c1ff7a"/><use href="#a14" fill="#d4ff60"/><use href="#a15" fill="#f0ff26"/><use href="#a16" fill="#ffed00"/><use href="#isl"/></g></g><use href="#ln"/></g><use href="#fr"/><text class="yr" x="185.5" y="42" textLength="63">2017</text></g>

<g transform="translate(1373 968)"><g transform="translate(55 40) scale(6.5 -6.5) translate(-80 -50)"><g clip-path="url(#cc)"><rect x="70" y="15" width="70" height="42" fill="#3aa8ff"/><g filter="url(#bl)"><use href="#a3" fill="#3973ff"/><use href="#a4" fill="#3b9eff"/><use href="#a1" fill="#86ffba"/><use href="#a18" fill="#b8ff85"/><use href="#a2" fill="#3b9eff"/><use href="#a17" fill="#1afff6"/><use href="#a5" fill="#3059ff"/><use href="#a12" fill="#3b9eff"/><use href="#a6" fill="#3c83ff"/><use href="#a7" fill="#3973ff"/><use href="#a8" fill="#33ffec"/><use href="#a9" fill="#70ffd0"/><use href="#a11" fill="#1afff6"/><use href="#a10" fill="#70ffd0"/><use href="#a19" fill="#9dffa3"/><use href="#a13" fill="#92ffae"/><use href="#a14" fill="#b0ff8e"/><use href="#a15" fill="#d4ff60"/><use href="#a16" fill="#f8ff13"/><use href="#isl"/></g></g><use href="#ln"/></g><use href="#fr"/><text class="yr" x="185.5" y="42" textLength="63">2018</text></g>

<g transform="translate(1809 968)"><g transform="translate(55 40) scale(6.5 -6.5) translate(-80 -50)"><g clip-path="url(#cc)"><rect x="70" y="15" width="70" height="42" fill="#3b9eff"/><g filter="url(#bl)"><use href="#a3" fill="#366aff"/><use href="#a4" fill="#3c95ff"/><use href="#a1" fill="#86ffba"/><use href="#a18" fill="#b8ff85"/><use href="#a2" fill="#3b9eff"/><use href="#a17" fill="#00ffff"/><use href="#a5" fill="#3059ff"/><use href="#a12" fill="#3c95ff"/><use href="#a6" fill="#3c7bff"/><use href="#a7" fill="#3973ff"/><use href="#a8" fill="#1afff6"/><use href="#a9" fill="#5dffd9"/><use href="#a11" fill="#00ffff"/><use href="#a10" fill="#5dffd9"/><use href="#a19" fill="#86ffba"/><use href="#a13" fill="#86ffba"/><use href="#a14" fill="#9dffa3"/><use href="#a15" fill="#b8ff85"/><use href="#a16" fill="#deff4d"/><use href="#isl"/></g></g><use href="#ln"/></g><use href="#fr"/><text class="yr" x="185.5" y="42" textLength="63">2019</text></g>

<!-- Row 5 -->
<g transform="translate(65 1252)"><g transform="translate(55 40) scale(6.5 -6.5) translate(-80 -50)"><g clip-path="url(#cc)"><rect x="70" y="15" width="70" height="42" fill="#3c95ff"/><g filter="url(#bl)"><use href="#a3" fill="#3059ff"/><use href="#a4" fill="#3c83ff"/><use href="#a1" fill="#a8ff98"/><use href="#a18" fill="#d4ff60"/><use href="#a2" fill="#3aa8ff"/><use href="#a17" fill="#13e9fd"/><use href="#a5" fill="#2d50ff"/><use href="#a12" fill="#3c83ff"/><use href="#a6" fill="#3c7bff"/><use href="#a7" fill="#3973ff"/><use href="#a8" fill="#00ffff"/><use href="#a9" fill="#33ffec"/><use href="#a11" fill="#36b5fe"/><use href="#a10" fill="#33ffec"/><use href="#a19" fill="#70ffd0"/><use href="#a13" fill="#33ffec"/><use href="#a14" fill="#86ffba"/><use href="#a15" fill="#a8ff98"/><use href="#a16" fill="#caff6d"/><use href="#isl"/></g></g><use href="#ln"/></g><use href="#fr"/><text class="yr" x="185.5" y="42" textLength="63">2020</text></g>

<g transform="translate(501 1252)"><g transform="translate(55 40) scale(6.5 -6.5) translate(-80 -50)"><g clip-path="url(#cc)"><rect x="70" y="15" width="70" height="42" fill="#3c95ff"/><g filter="url(#bl)"><use href="#a3" fill="#3362ff"/><use href="#a4" fill="#3c83ff"/><use href="#a1" fill="#9dffa3"/><use href="#a18" fill="#caff6d"/><use href="#a2" fill="#3b9eff"/><use href="#a17" fill="#13e9fd"/><use href="#a5" fill="#2d50ff"/><use href="#a12" fill="#3d8cff"/><use href="#a6" fill="#3c7bff"/><use href="#a7" fill="#3973ff"/><use href="#a8" fill="#00ffff"/><use href="#a9" fill="#33ffec"/><use href="#a11" fill="#32c2fb"/><use href="#a10" fill="#33ffec"/><use href="#a19" fill="#70ffd0"/><use href="#a13" fill="#33ffec"/><use href="#a14" fill="#86ffba"/><use href="#a15" fill="#a8ff98"/><use href="#a16" fill="#c1ff7a"/><use href="#isl"/></g></g><use href="#ln"/></g><use href="#fr"/><text class="yr" x="185.5" y="42" textLength="63">2021</text></g>

<g transform="translate(937 1252)"><g transform="translate(55 40) scale(6.5 -6.5) translate(-80 -50)"><use href="#ln"/></g><use href="#fr"/><text class="yr" x="185.5" y="42" textLength="63">2022</text></g>
<g transform="translate(1373 1252)"><g transform="translate(55 40) scale(6.5 -6.5) translate(-80 -50)"><use href="#ln"/></g><use href="#fr"/><text class="yr" x="185.5" y="42" textLength="63">2023</text></g>
<g transform="translate(1809 1252)"><g transform="translate(55 40) scale(6.5 -6.5) translate(-80 -50)"><use href="#ln"/></g><use href="#fr"/><text class="yr" x="185.5" y="42" textLength="63">2024</text></g>

<!-- Ticks -->
<path fill="none" stroke="#000" stroke-width="2" d="
M120 106V115 M185 106V115 M250 106V115 M315 106V115 M380 106V115 M445 106V115
M556 106V115 M621 106V115 M686 106V115 M751 106V115 M816 106V115 M881 106V115
M992 106V115 M1057 106V115 M1122 106V115 M1187 106V115 M1252 106V115 M1317 106V115
M1428 106V115 M1493 106V115 M1558 106V115 M1623 106V115 M1688 106V115 M1753 106V115
M1864 106V115 M1929 106V115 M1994 106V115 M2059 106V115 M2124 106V115 M2189 106V115
M120 1522V1531 M185 1522V1531 M250 1522V1531 M315 1522V1531 M380 1522V1531 M445 1522V1531
M556 1522V1531 M621 1522V1531 M686 1522V1531 M751 1522V1531 M816 1522V1531 M881 1522V1531
M992 1522V1531 M1057 1522V1531 M1122 1522V1531 M1187 1522V1531 M1252 1522V1531 M1317 1522V1531
M1428 1522V1531 M1493 1522V1531 M1558 1522V1531 M1623 1522V1531 M1688 1522V1531 M1753 1522V1531
M1864 1522V1531 M1929 1522V1531 M1994 1522V1531 M2059 1522V1531 M2124 1522V1531 M2189 1522V1531
M57 155H65 M57 220H65 M57 285H65 M57 350H65
M57 439H65 M57 504H65 M57 569H65 M57 634H65
M57 723H65 M57 788H65 M57 853H65 M57 918H65
M57 1008H65 M57 1073H65 M57 1138H65 M57 1203H65
M57 1292H65 M57 1357H65 M57 1422H65 M57 1487H65
M2232 155H2241 M2232 220H2241 M2232 285H2241 M2232 350H2241
M2232 439H2241 M2232 504H2241 M2232 569H2241 M2232 634H2241
M2232 723H2241 M2232 788H2241 M2232 853H2241 M2232 918H2241
M2232 1008H2241 M2232 1073H2241 M2232 1138H2241 M2232 1203H2241
M2232 1292H2241 M2232 1357H2241 M2232 1422H2241 M2232 1487H2241"/>

<!-- Axis labels -->
<g class="tk" text-anchor="middle">
<text x="120" y="99">80° E</text><text x="185" y="99">90° E</text><text x="250" y="99">100° E</text><text x="315" y="99">110° E</text><text x="380" y="99">120° E</text><text x="445" y="99">130° E</text>
<text x="556" y="99">80° E</text><text x="621" y="99">90° E</text><text x="686" y="99">100° E</text><text x="751" y="99">110° E</text><text x="816" y="99">120° E</text><text x="881" y="99">130° E</text>
<text x="992" y="99">80° E</text><text x="1057" y="99">90° E</text><text x="1122" y="99">100° E</text><text x="1187" y="99">110° E</text><text x="1252" y="99">120° E</text><text x="1317" y="99">130° E</text>
<text x="1428" y="99">80° E</text><text x="1493" y="99">90° E</text><text x="1558" y="99">100° E</text><text x="1623" y="99">110° E</text><text x="1688" y="99">120° E</text><text x="1753" y="99">130° E</text>
<text x="1864" y="99">80° E</text><text x="1929" y="99">90° E</text><text x="1994" y="99">100° E</text><text x="2059" y="99">110° E</text><text x="2124" y="99">120° E</text><text x="2189" y="99">130° E</text>
<text x="120" y="1553">80° E</text><text x="185" y="1553">90° E</text><text x="250" y="1553">100° E</text><text x="315" y="1553">110° E</text><text x="380" y="1553">120° E</text><text x="445" y="1553">130° E</text>
<text x="556" y="1553">80° E</text><text x="621" y="1553">90° E</text><text x="686" y="1553">100° E</text><text x="751" y="1553">110° E</text><text x="816" y="1553">120° E</text><text x="881" y="1553">130° E</text>
<text x="992" y="1553">80° E</text><text x="1057" y="1553">90° E</text><text x="1122" y="1553">100° E</text><text x="1187" y="1553">110° E</text><text x="1252" y="1553">120° E</text><text x="1317" y="1553">130° E</text>
<text x="1428" y="1553">80° E</text><text x="1493" y="1553">90° E</text><text x="1558" y="1553">100° E</text><text x="1623" y="1553">110° E</text><text x="1688" y="1553">120° E</text><text x="1753" y="1553">130° E</text>
<text x="1864" y="1553">80° E</text><text x="1929" y="1553">90° E</text><text x="1994" y="1553">100° E</text><text x="2059" y="1553">110° E</text><text x="2124" y="1553">120° E</text><text x="2189" y="1553">130° E</text>
<text transform="translate(50 155) rotate(-90)">50° N</text><text transform="translate(50 220) rotate(-90)">40° N</text><text transform="translate(50 285) rotate(-90)">30° N</text><text transform="translate(50 350) rotate(-90)">20° N</text>
<text transform="translate(50 439) rotate(-90)">50° N</text><text transform="translate(50 504) rotate(-90)">40° N</text><text transform="translate(50 569) rotate(-90)">30° N</text><text transform="translate(50 634) rotate(-90)">20° N</text>
<text transform="translate(50 723) rotate(-90)">50° N</text><text transform="translate(50 788) rotate(-90)">40° N</text><text transform="translate(50 853) rotate(-90)">30° N</text><text transform="translate(50 918) rotate(-90)">20° N</text>
<text transform="translate(50 1008) rotate(-90)">50° N</text><text transform="translate(50 1073) rotate(-90)">40° N</text><text transform="translate(50 1138) rotate(-90)">30° N</text><text transform="translate(50 1203) rotate(-90)">20° N</text>
<text transform="translate(50 1292) rotate(-90)">50° N</text><text transform="translate(50 1357) rotate(-90)">40° N</text><text transform="translate(50 1422) rotate(-90)">30° N</text><text transform="translate(50 1487) rotate(-90)">20° N</text>
<text transform="translate(2264 155) rotate(-90)">50° N</text><text transform="translate(2264 220) rotate(-90)">40° N</text><text transform="translate(2264 285) rotate(-90)">30° N</text><text transform="translate(2264 350) rotate(-90)">20° N</text>
<text transform="translate(2264 439) rotate(-90)">50° N</text><text transform="translate(2264 504) rotate(-90)">40° N</text><text transform="translate(2264 569) rotate(-90)">30° N</text><text transform="translate(2264 634) rotate(-90)">20° N</text>
<text transform="translate(2264 723) rotate(-90)">50° N</text><text transform="translate(2264 788) rotate(-90)">40° N</text><text transform="translate(2264 853) rotate(-90)">30° N</text><text transform="translate(2264 918) rotate(-90)">20° N</text>
<text transform="translate(2264 1008) rotate(-90)">50° N</text><text transform="translate(2264 1073) rotate(-90)">40° N</text><text transform="translate(2264 1138) rotate(-90)">30° N</text><text transform="translate(2264 1203) rotate(-90)">20° N</text>
<text transform="translate(2264 1292) rotate(-90)">50° N</text><text transform="translate(2264 1357) rotate(-90)">40° N</text><text transform="translate(2264 1422) rotate(-90)">30° N</text><text transform="translate(2264 1487) rotate(-90)">20° N</text>
</g>

<!-- Colorbar -->
<rect x="743" y="1571" width="813" height="27" fill="url(#cbg)"/>
<path fill="none" stroke="#555" stroke-width="1.5" d="M743 1598V1603 M810.75 1598V1603 M878.5 1598V1603 M946.25 1598V1603 M1014 1598V1603 M1081.75 1598V1603 M1149.5 1598V1603 M1217.25 1598V1603 M1285 1598V1603 M1352.75 1598V1603 M1420.5 1598V1603 M1488.25 1598V1603 M1556 1598V1603"/>
<g class="cb" text-anchor="middle">
<text x="810.75" y="1628">5</text><text x="878.5" y="1628">10</text><text x="946.25" y="1628">15</text><text x="1014" y="1628">20</text><text x="1081.75" y="1628">25</text><text x="1149.5" y="1628">30</text><text x="1217.25" y="1628">35</text><text x="1285" y="1628">40</text><text x="1352.75" y="1628">45</text><text x="1420.5" y="1628">50</text><text x="1488.25" y="1628">55</text>
</g>
<text x="1515" y="1630" font-weight="bold" font-size="22" textLength="58" lengthAdjust="spacingAndGlyphs">μg/m</text>
<text x="1574" y="1614" font-weight="bold" font-size="15">3</text>
</svg>
</body></html>
